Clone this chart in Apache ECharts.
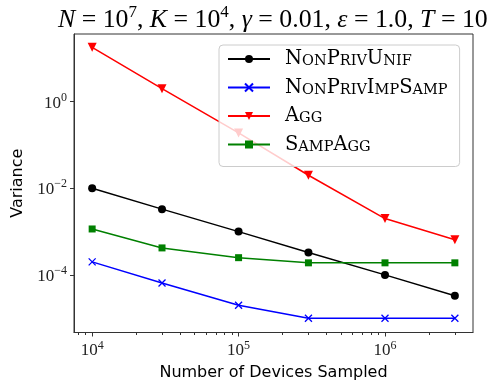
<!DOCTYPE html>
<html><head><meta charset="utf-8">
<script src="https://cdn.jsdelivr.net/npm/echarts@6/dist/echarts.min.js"></script>
<style>html,body{margin:0;padding:0;background:#fff}#c{width:498px;height:388px}</style>
</head><body><div id="c"></div>
<script>
const devices = [1e4, 3e4, 1e5, 3e5, 1e6, 3e6];
const nonPrivUnif = [1e-2, 3.3e-3, 1e-3, 3.3e-4, 1e-4, 3.3e-5];
const nonPrivImpSamp = [2e-4, 6.5e-5, 2e-5, 1e-5, 1e-5, 1e-5];
const agg = [18, 2.0, 0.19, 0.02, 2e-3, 6.5e-4];
const sampAgg = [1.15e-3, 4.2e-4, 2.5e-4, 1.9e-4, 1.9e-4, 1.9e-4];
const seriesNames = ['NonPrivUnif', 'NonPrivImpSamp', 'Agg', 'SampAgg'];
const xMajorTicks = [1e4, 1e5, 1e6];
const xMinorTicks = [8e3, 9e3, 2e4, 3e4, 4e4, 5e4, 6e4, 7e4, 8e4, 9e4, 2e5, 3e5, 4e5, 5e5, 6e5, 7e5, 8e5, 9e5, 2e6, 3e6];
const yMajorTicks = [1, 1e-2, 1e-4];
const xMin = Math.pow(10, 3.876), xMax = Math.pow(10, 6.601);
const yMin = Math.pow(10, -5.33), yMax = Math.pow(10, 1.563);

const SERIF = 'Liberation Serif';
const LSERIF = 'DejaVu Serif';
const SANS = 'DejaVu Sans';

function pairs(ys) { return devices.map((x, i) => [x, ys[i]]); }
function supLabel(v) {
  const e = Math.round(Math.log10(v));
  const s = e < 0 ? '\u2212' + (-e) : '' + e;
  return '{b|10}{s|' + s + '}';
}
function smallCaps(name) {
  let out = '';
  for (const ch of name) {
    if (ch === ch.toUpperCase()) out += '{B|' + ch + '}';
    else out += '{S|' + ch.toUpperCase() + '}';
  }
  return out;
}
const tickRich = {
  b: { fontFamily: SERIF, fontSize: 17, color: '#222', lineHeight: 20, verticalAlign: 'bottom' },
  s: { fontFamily: SERIF, fontSize: 12, color: '#222', lineHeight: 20, verticalAlign: 'top' }
};

const chart = echarts.init(document.getElementById('c'), null, { renderer: 'canvas' });
const lineCommon = { lineStyle: { width: 1.5 }, symbolSize: 7, showSymbol: true, z: 2 };
chart.setOption({
  animation: false,
  backgroundColor: '#fff',
  title: {
    left: 58, top: 4, padding: 0,
    text: '{i|N}{r| = 10}{p|7}{r|, }{i|K}{r| = 10}{p|4}{r|, }{i|\u03b3}{r| = 0.01, }{i|\u03b5}{r| = 1.0, }{i|T}{r| = 10}',
    textStyle: {
      fontWeight: 'normal',
      rich: {
        i: { fontFamily: SERIF, fontStyle: 'italic', fontWeight: 'normal', fontSize: 25.8, color: '#000', lineHeight: 29, verticalAlign: 'bottom' },
        r: { fontFamily: SERIF, fontWeight: 'normal', fontSize: 25.8, color: '#000', lineHeight: 29, verticalAlign: 'bottom' },
        p: { fontFamily: SERIF, fontWeight: 'normal', fontSize: 17, color: '#000', lineHeight: 29, verticalAlign: 'top' }
      }
    }
  },
  grid: { left: 74, right: 25, top: 34, bottom: 55.5, show: true, borderColor: '#333', borderWidth: 1, containLabel: false },
  legend: {
    orient: 'vertical', left: 219, top: 45,
    padding: [4, 12, 12, 8], itemGap: 8.5,
    itemWidth: 42, itemHeight: 10,
    backgroundColor: 'rgba(255,255,255,0.8)', borderColor: '#ccc', borderWidth: 1, borderRadius: 4,
    data: seriesNames,
    formatter: n => smallCaps(n),
    textStyle: {
      padding: [0, 0, 0, 10],
      rich: {
        B: { fontFamily: LSERIF, fontSize: 19.5, color: '#000', lineHeight: 20, verticalAlign: 'bottom' },
        S: { fontFamily: LSERIF, fontSize: 14.5, color: '#000', lineHeight: 20, verticalAlign: 'bottom' }
      }
    }
  },
  xAxis: [{
    type: 'log', logBase: 10, min: xMin, max: xMax,
    name: 'Number of Devices Sampled', nameLocation: 'middle', nameGap: 30,
    nameTextStyle: { fontFamily: SANS, fontSize: 16, color: '#000' },
    axisLine: { show: true, lineStyle: { color: '#333', width: 1 } },
    axisTick: { show: true, length: 4, inside: false, customValues: xMajorTicks, lineStyle: { color: '#333' } },
    axisLabel: { show: true, margin: 7, customValues: xMajorTicks, formatter: v => supLabel(v), rich: tickRich },
    splitLine: { show: false }, minorTick: { show: false }
  }, {
    type: 'log', logBase: 10, min: xMin, max: xMax, position: 'bottom', gridIndex: 0,
    axisLine: { show: false },
    axisTick: { show: true, length: 2.5, inside: false, customValues: xMinorTicks, lineStyle: { color: '#333' } },
    axisLabel: { show: false }, splitLine: { show: false }
  }],
  yAxis: {
    type: 'log', logBase: 10, min: yMin, max: yMax,
    name: 'Variance', nameLocation: 'middle', nameGap: 46,
    nameTextStyle: { fontFamily: SANS, fontSize: 16, color: '#000' },
    axisLine: { show: true, lineStyle: { color: '#333', width: 1 } },
    axisTick: { show: true, length: 4, inside: false, customValues: yMajorTicks, lineStyle: { color: '#333' } },
    axisLabel: { show: true, margin: 7, customValues: yMajorTicks, formatter: v => supLabel(v), rich: tickRich },
    splitLine: { show: false }
  },
  series: [
    Object.assign({}, lineCommon, { name: seriesNames[0], type: 'line', data: pairs(nonPrivUnif), symbol: 'circle', symbolSize: 8,
      itemStyle: { color: '#000' }, lineStyle: { width: 1.5, color: '#000' } }),
    Object.assign({}, lineCommon, { name: seriesNames[1], type: 'line', data: pairs(nonPrivImpSamp),
      symbol: 'path://M0,0L10,10M0,10L10,0', symbolSize: 7,
      itemStyle: { color: '#0000ff', borderColor: '#0000ff', borderWidth: 1.3 }, lineStyle: { width: 1.5, color: '#0000ff' } }),
    Object.assign({}, lineCommon, { name: seriesNames[2], type: 'line', data: pairs(agg), symbol: 'triangle', symbolRotate: 180, symbolSize: 9,
      itemStyle: { color: '#ff0000' }, lineStyle: { width: 1.5, color: '#ff0000' } }),
    Object.assign({}, lineCommon, { name: seriesNames[3], type: 'line', data: pairs(sampAgg), symbol: 'rect', symbolSize: 7,
      itemStyle: { color: '#008000' }, lineStyle: { width: 1.5, color: '#008000' } })
  ]
});
</script></body></html>
